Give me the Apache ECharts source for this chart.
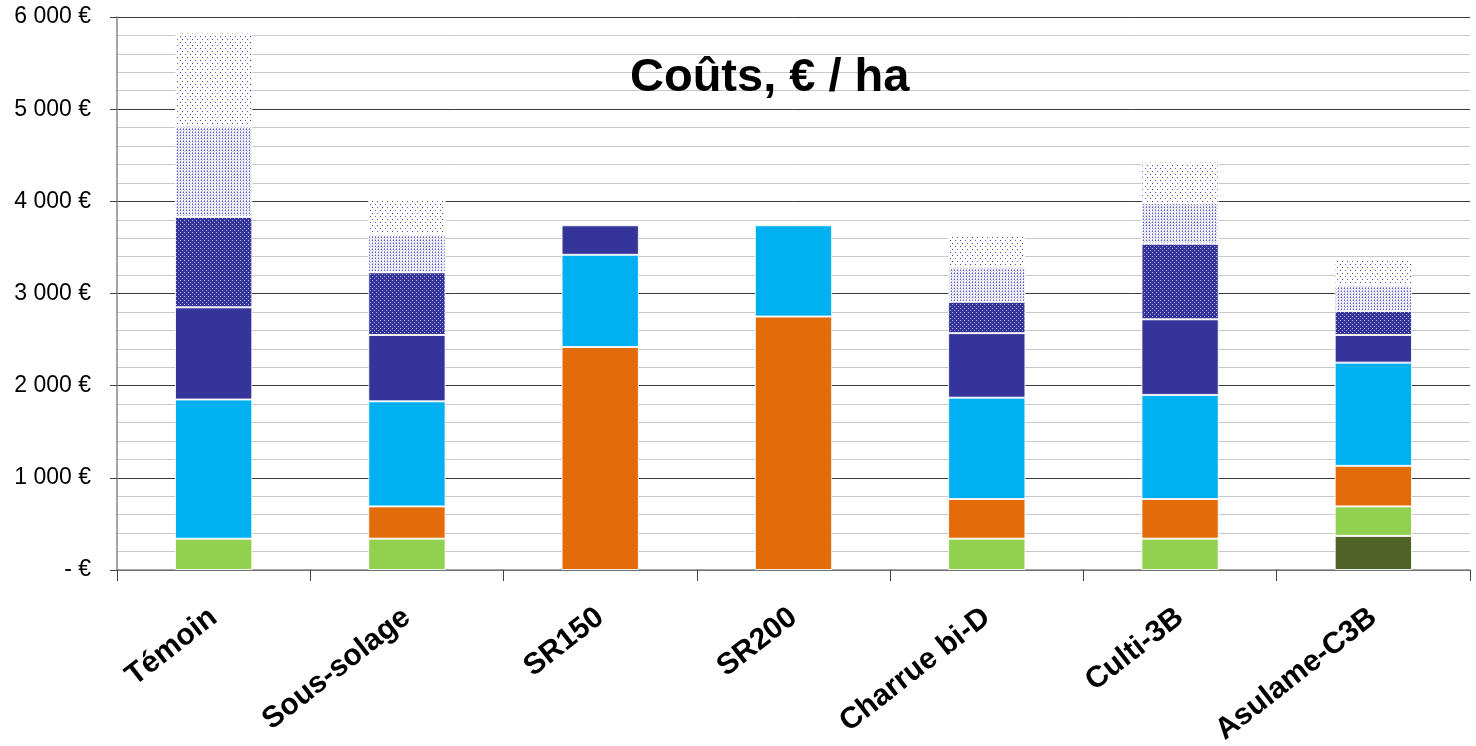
<!DOCTYPE html>
<html>
<head>
<meta charset="utf-8">
<style>
  html, body { margin: 0; padding: 0; background: #fff; }
  #chart { width: 1476px; height: 746px; }
</style>
<script src="https://cdn.jsdelivr.net/npm/echarts@6/dist/echarts.min.js"></script>
</head>
<body>
<div id="chart"></div>
<script>
// Itinéraires comparés
const categories = ['Témoin', 'Sous-solage', 'SR150', 'SR200', 'Charrue bi-D', 'Culti-3B', 'Asulame-C3B'];

// Coût de chaque poste, € / ha, empilés de bas en haut
const posteVertFonce = [0, 0, 0, 0, 0, 0, 370];
const posteVert      = [340, 340, 0, 0, 340, 340, 320];
const posteOrange    = [0, 350, 2420, 2750, 430, 430, 440];
const posteCyan      = [1510, 1140, 1000, 990, 1100, 1130, 1120];
const posteBleu      = [1000, 720, 320, 0, 700, 820, 300];
const posteBleuPoint = [980, 680, 0, 0, 340, 820, 260];
const posteTrame     = [990, 410, 0, 0, 380, 440, 280];
const posteTrameFine = [1010, 390, 0, 0, 340, 450, 280];

// Graduations de l'axe des coûts
const yTicks = [0, 1000, 2000, 3000, 4000, 5000, 6000];

// Petites tuiles répétées pour les trames pointillées
function tile(w, h, bg, dots) {
  const c = document.createElement('canvas');
  c.width = w; c.height = h;
  const g = c.getContext('2d');
  g.fillStyle = bg; g.fillRect(0, 0, w, h);
  dots.forEach(([x, y, col]) => { g.fillStyle = col; g.fillRect(x, y, 1, 1); });
  return { image: c, repeat: 'repeat' };
}
const trameBleuDense = tile(4, 4, '#35349a', [[0, 0, '#c0c0ea'], [2, 2, '#a6a6de']]);
const trameMoyenne   = tile(3, 3, '#ffffff', [[0, 0, '#5a5ac6'], [2, 0, '#d0d0ee'], [0, 2, '#9a9adc'], [1, 1, '#c4c4ea']]);
const trameLegere    = tile(10, 6, '#ffffff', [[0, 0, '#4040c0'], [5, 0, '#6060cc'], [2, 3, '#4040c0'], [7, 3, '#6060cc']]);

const stacks = [
  { name: 'A', data: posteVertFonce, color: '#4f6228' },
  { name: 'B', data: posteVert,      color: '#92d050' },
  { name: 'C', data: posteOrange,    color: '#e36c0a' },
  { name: 'D', data: posteCyan,      color: '#00b0f0' },
  { name: 'E', data: posteBleu,      color: '#35349a' },
  { name: 'F', data: posteBleuPoint, color: trameBleuDense },
  { name: 'G', data: posteTrame,     color: trameMoyenne },
  { name: 'H', data: posteTrameFine, color: trameLegere }
];

function euro(v) {
  if (v === 0) return '- €';
  const k = Math.floor(v / 1000);
  const r = String(v % 1000).padStart(3, '0');
  return k + ' ' + r + ' €';
}

const chart = echarts.init(document.getElementById('chart'), null, { renderer: 'canvas' });

chart.setOption({
  animation: false,
  backgroundColor: '#ffffff',
  title: {
    text: 'Coûts, € / ha',
    left: 625,
    top: 50,
    textStyle: {
      fontFamily: 'Liberation Sans, Arial, sans-serif',
      fontSize: 47,
      fontWeight: 'bold',
      color: '#000000',
      lineHeight: 47
    }
  },
  grid: { left: 117, right: 6, top: 17, bottom: 176, containLabel: false, outerBoundsMode: 'none' },
  xAxis: {
    type: 'category',
    data: categories,
    axisLine: { lineStyle: { color: '#868686', width: 1.5 } },
    axisTick: { show: true, length: 11, lineStyle: { color: '#404040' } },
    axisLabel: {
      rotate: 38,
      margin: 44,
      interval: 0,
      fontFamily: 'Liberation Sans, Arial, sans-serif',
      fontSize: 30,
      fontWeight: 'bold',
      color: '#000000'
    }
  },
  yAxis: {
    type: 'value',
    min: yTicks[0],
    max: yTicks[yTicks.length - 1],
    interval: 1000,
    axisLine: { show: true, lineStyle: { color: '#868686', width: 1.5 } },
    axisTick: { show: true, length: 7, lineStyle: { color: '#404040' } },
    axisLabel: {
      margin: 26,
      formatter: euro,
      fontFamily: 'Liberation Sans, Arial, sans-serif',
      fontSize: 23,
      color: '#000000'
    },
    splitLine: { show: true, lineStyle: { color: '#3a3a3a', width: 1 } },
    minorTick: { show: false, splitNumber: 5 },
    minorSplitLine: { show: true, lineStyle: { color: '#c8c8c8', width: 1 } }
  },
  series: stacks.map(s => ({
    name: s.name,
    type: 'bar',
    stack: 'cout',
    barWidth: '40%',
    data: s.data.map(v => (v === 0 ? '-' : v)),
    itemStyle: { color: s.color, borderColor: 'rgba(255,255,255,0.85)', borderWidth: 1 }
  }))
});
</script>
</body>
</html>
